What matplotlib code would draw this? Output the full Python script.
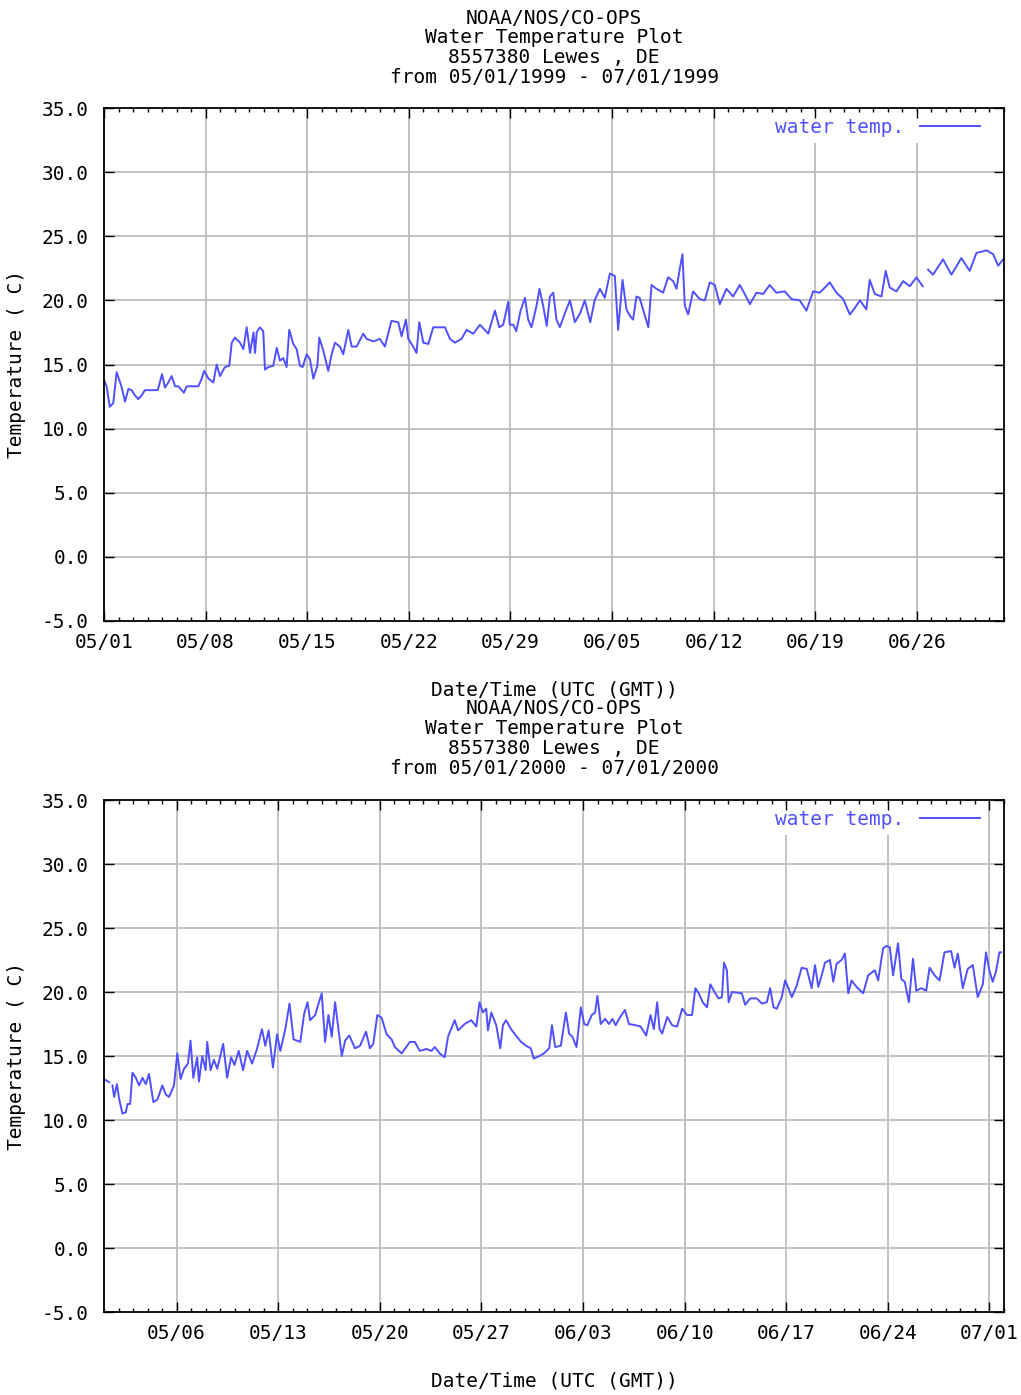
import matplotlib
matplotlib.use("Agg")
import matplotlib.pyplot as plt
import matplotlib.dates as mdates
from datetime import datetime, timedelta

nan = float("nan")

# Water temperature Lewes, DE (8557380)
# days after 05/01 00:00 UTC and temperature in C

tage_1999 = [0.0, 0.18, 0.4, 0.64, 0.87, 1.2, 1.45, 1.68, 1.9, 2.13, 2.36, 2.6, 2.82, 3.2, 3.7,
             4.0, 4.2, 4.43, 4.66, 4.9, 5.12, 5.5, 5.7, 6.5, 6.73, 6.9, 7.2, 7.53, 7.76, 7.99,
             8.33, 8.63, 8.8, 9.02, 9.37, 9.6, 9.83, 10.06, 10.3, 10.4, 10.52, 10.74, 10.97,
             11.09, 11.32, 11.66, 11.9, 12.12, 12.35, 12.58, 12.76, 13.04, 13.27, 13.5, 13.68,
             13.96, 14.19, 14.42, 14.7, 14.83, 15.1, 15.45, 15.68, 15.91, 16.25, 16.48, 16.83,
             17.06, 17.4, 17.86, 18.09, 18.55, 19.0, 19.35, 19.8, 20.27, 20.5, 20.8, 20.96,
             21.3, 21.53, 21.72, 22.0, 22.34, 22.68, 23.49, 23.83, 24.17, 24.63, 24.98, 25.44,
             25.9, 26.47, 26.93, 27.23, 27.5, 27.85, 27.95, 28.2, 28.4, 28.7, 29.0, 29.22,
             29.45, 29.8, 30.0, 30.25, 30.5, 30.72, 30.95, 31.17, 31.4, 31.75, 32.1, 32.44,
             32.8, 33.12, 33.5, 33.8, 34.16, 34.5, 34.85, 35.19, 35.42, 35.72, 35.99, 36.22,
             36.45, 36.68, 36.9, 37.26, 37.5, 37.72, 38.06, 38.52, 38.86, 39.21, 39.44, 39.67,
             39.85, 40.01, 40.24, 40.58, 41.04, 41.39, 41.73, 42.08, 42.42, 42.88, 43.34, 43.8,
             44.14, 44.49, 44.95, 45.41, 45.86, 46.32, 46.9, 47.36, 47.93, 48.39, 48.85, 49.31,
             50.0, 50.46, 50.92, 51.38, 51.72, 52.07, 52.52, 52.75, 53.1, 53.56, 53.85, 54.13,
             54.59, 55.05, 55.51, 55.97, 56.4, 56.6, 56.77, 57.11, 57.8, 58.38, 59.06, 59.64,
             60.1, 60.8, 61.25, 61.6, 61.94]
temp_1999 = [13.8, 13.3, 11.7, 12.0, 14.4, 13.3, 12.1, 13.1, 13.0, 12.6, 12.3, 12.6, 13.0, 13.0, 13.0,
             14.25, 13.2, 13.6, 14.1, 13.3, 13.3, 12.8, 13.3, 13.3, 13.9, 14.5, 13.9, 13.6, 15.0, 14.1,
             14.8, 14.9, 16.7, 17.1, 16.7, 16.2, 17.9, 15.9, 17.5, 15.9, 17.5, 17.9, 17.6,
             14.6, 14.8, 14.9, 16.3, 15.3, 15.5, 14.8, 17.7, 16.6, 16.2, 14.9, 14.8,
             15.8, 15.4, 13.9, 14.9, 17.1, 16.1, 14.5, 15.8, 16.7, 16.4, 15.8, 17.7,
             16.4, 16.4, 17.4, 17.0, 16.8, 17.0, 16.4, 18.4, 18.3, 17.2, 18.5, 17.0,
             16.4, 15.9, 18.3, 16.7, 16.6, 17.9, 17.9, 17.0, 16.7, 17.0, 17.7, 17.4,
             18.1, 17.4, 19.2, 17.9, 18.1, 19.9, 18.1, 18.1, 17.6, 19.2, 20.2, 18.5,
             17.9, 19.6, 20.9, 19.6, 18.0, 20.3, 20.6, 18.5, 17.9, 19.0, 20.0, 18.3,
             19.0, 20.0, 18.3, 20.0, 20.9, 20.2, 22.1, 21.9, 17.7, 21.6, 19.3, 18.8,
             18.5, 20.3, 20.2, 18.8, 17.9, 21.2, 20.9, 20.6, 21.8, 21.5, 20.9, 22.5,
             23.6, 19.6, 18.9, 20.7, 20.1, 20.0, 21.4, 21.2, 19.7, 20.9, 20.3, 21.2,
             20.5, 19.7, 20.6, 20.5, 21.2, 20.6, 20.7, 20.1, 20.0, 19.2, 20.7, 20.6,
             21.4, 20.6, 20.1, 18.9, 19.4, 20.0, 19.3, 21.6, 20.5, 20.3, 22.3, 21.0,
             20.7, 21.5, 21.1, 21.8, 21.1, nan, 22.4, 22.0, 23.2, 22.0, 23.3, 22.3,
             23.7, 23.9, 23.6, 22.7, 23.2]

tage_2000 = [0.0, 0.35, 0.47, 0.58, 0.7, 0.89, 1.05, 1.27, 1.5, 1.62, 1.8, 1.96, 2.19, 2.42, 2.65,
             2.88, 3.1, 3.4, 3.68, 4.02, 4.25, 4.48, 4.82, 5.05, 5.28, 5.51, 5.78, 5.96, 6.15,
             6.42, 6.54, 6.77, 7.0, 7.11, 7.34, 7.57, 7.8, 8.21, 8.48, 8.76, 8.99, 9.28, 9.58,
             9.86, 10.2, 10.54, 10.88, 11.11, 11.34, 11.64, 11.92, 12.15, 12.49, 12.78, 13.06,
             13.52, 13.79, 14.02, 14.2, 14.55, 14.78, 15.0, 15.23, 15.46, 15.69, 15.92, 16.22,
             16.38, 16.61, 16.9, 17.29, 17.64, 18.05, 18.32, 18.55, 18.83, 19.12, 19.47, 19.81,
             20.04, 20.5, 21.07, 21.41, 21.76, 22.21, 22.56, 22.79, 23.13, 23.47, 23.7, 24.16,
             24.39, 24.85, 25.3, 25.65, 25.87, 26.1, 26.33, 26.45, 26.68, 27.02, 27.3, 27.48,
             27.7, 28.04, 28.38, 28.73, 29.07, 29.4, 29.6, 30.0, 30.3, 30.67, 30.86, 31.08,
             31.47, 31.82, 32.04, 32.27, 32.55, 32.85, 33.08, 33.3, 33.6, 33.83, 33.99, 34.22,
             34.52, 34.79, 35.02, 35.25, 35.48, 35.89, 36.16, 36.62, 36.97, 37.35, 37.65, 37.88,
             38.11, 38.27, 38.45, 38.8, 39.14, 39.48, 39.83, 40.17, 40.51, 40.74, 40.97, 41.24,
             41.54, 41.77, 42.11, 42.34, 42.57, 42.71, 42.91, 43.03, 43.26, 43.94, 44.17, 44.52,
             44.97, 45.32, 45.66, 45.89, 46.12, 46.35, 46.69, 46.92, 47.15, 47.38, 47.72, 48.06,
             48.41, 48.75, 48.98, 49.21, 49.44, 49.67, 50.01, 50.24, 50.47, 50.81, 51.04, 51.27,
             51.5, 51.84, 52.3, 52.64, 53.1, 53.33, 53.67, 53.9, 54.13, 54.36, 54.7, 54.93,
             55.16, 55.45, 55.73, 55.96, 56.3, 56.64, 56.87, 57.22, 57.56, 57.9, 58.36, 58.59,
             58.82, 59.16, 59.5, 59.85, 60.19, 60.54, 60.76, 60.99, 61.22, 61.45, 61.68, 61.8]
temp_2000 = [13.2, 12.95, nan, 12.7, 11.8, 12.8, 11.6, 10.5, 10.6, 11.25, 11.25, 13.7, 13.3, 12.7, 13.3,
             12.8, 13.6, 11.4, 11.6, 12.7, 12.0, 11.8, 12.7, 15.2, 13.2, 14.0, 14.4, 16.2, 13.3,
             14.9, 13.0, 15.0, 13.9, 16.1, 13.9, 14.7, 14.0, 15.95, 13.3, 14.9, 14.3, 15.4, 13.9,
             15.4, 14.4, 15.55, 17.1, 15.8, 17.0, 14.1, 16.7, 15.4, 17.1, 19.1, 16.3,
             16.1, 18.3, 19.2, 17.8, 18.2, 19.1, 19.9, 16.1, 18.2, 16.5, 19.2, 16.5,
             15.0, 16.2, 16.6, 15.6, 15.8, 16.9, 15.6, 15.95, 18.2, 18.0, 16.7, 16.3,
             15.7, 15.2, 16.1, 16.1, 15.4, 15.55, 15.4, 15.7, 15.2, 14.9, 16.5, 17.8,
             17.0, 17.5, 17.8, 17.3, 19.2, 18.4, 18.7, 17.0, 18.4, 17.4, 15.6, 17.4,
             17.8, 17.1, 16.6, 16.1, 15.8, 15.6, 14.8, 15.0, 15.2, 15.6, 17.4, 15.7,
             15.8, 18.4, 16.75, 16.5, 15.7, 18.8, 17.5, 17.4, 18.2, 18.4, 19.7, 17.5,
             17.9, 17.5, 17.9, 17.4, 17.9, 18.6, 17.5, 17.4, 17.3, 16.6, 18.2, 17.1,
             19.2, 17.1, 16.75, 18.05, 17.4, 17.3, 18.7, 18.2, 18.2, 20.3, 19.9, 19.2,
             18.8, 20.6, 19.9, 19.5, 19.6, 22.3, 21.7, 19.2, 20.0, 19.9, 19.0, 19.5,
             19.5, 19.1, 19.2, 20.3, 18.8, 18.7, 19.6, 20.9, 20.3, 19.6, 20.5, 21.9,
             21.8, 20.3, 22.1, 20.4, 21.3, 22.3, 22.5, 20.8, 22.2, 22.5, 23.0, 19.9,
             20.9, 20.4, 19.9, 21.3, 21.7, 20.9, 23.4, 23.6, 23.5, 21.3, 23.8, 21.0,
             20.8, 19.2, 22.6, 20.1, 20.3, 20.1, 21.9, 21.3, 20.9, 23.1, 23.2, 21.9,
             23.0, 20.3, 21.8, 22.1, 19.6, 20.6, 23.1, 21.7, 20.8, 21.6, 23.1, 23.1]

ticks_1999 = ["05/01", "05/08", "05/15", "05/22", "05/29", "06/05", "06/12", "06/19", "06/26"]
ticks_2000 = ["05/06", "05/13", "05/20", "05/27", "06/03", "06/10", "06/17", "06/24", "07/01"]
y_ticks = [-5, 0, 5, 10, 15, 20, 25, 30, 35]

BLAU = "#5050ff"
GRAU = "#bdbdbd"

plt.rcParams["font.family"] = "DejaVu Sans Mono"
plt.rcParams["font.size"] = 14

W, H = 1021, 1395
fig = plt.figure(figsize=(W / 100, H / 100), dpi=100)


# pixel -> figure coordinates
def fx(px):
    return px / W


def fy(py):
    return 1 - py / H


def panel(top, bottom, jahr, tage, temp, tick_labels, title_y, xlabel_y):
    ax = fig.add_axes([fx(104), fy(bottom), 900 / W, (bottom - top) / H])
    ax.set_axisbelow(False)

    start = datetime(jahr, 5, 1)
    ende = start + timedelta(days=62)
    zeit = [start + timedelta(days=t) for t in tage]
    ax.plot(zeit, temp, color=BLAU, linewidth=1.4, label="water temp.", zorder=2)

    ticks = [datetime.strptime(str(jahr) + "/" + s, "%Y/%m/%d") for s in tick_labels]
    ax.set_xlim(start, ende)
    ax.set_ylim(-5, 35)
    ax.set_xticks(ticks)
    ax.set_xticklabels(tick_labels)
    ax.xaxis.set_minor_locator(mdates.DayLocator())
    ax.set_yticks(y_ticks)
    ax.set_yticklabels(["%.1f" % v for v in y_ticks])

    # grid lines
    for t in ticks:
        if start < t < ende:
            ax.axvline(t, color=GRAU, linewidth=1.3, zorder=1)
    for v in y_ticks[1:-1]:
        ax.axhline(v, color=GRAU, linewidth=1.3, zorder=1)

    ax.tick_params(which="both", direction="in", top=True, right=True, colors="black")
    ax.tick_params(which="major", length=7, width=1.0)
    ax.tick_params(which="minor", length=3, width=1.0)
    ax.tick_params(axis="x", pad=8.5)
    ax.tick_params(axis="y", pad=11)
    for s in ax.spines.values():
        s.set_linewidth(1.3)

    leg = ax.legend(loc="upper right", bbox_to_anchor=(0.98, 0.992), borderaxespad=0,
                    borderpad=0.3, markerfirst=False, handlelength=3.1, handletextpad=0.8,
                    labelcolor="linecolor", fancybox=False, framealpha=1)
    leg.get_frame().set_linewidth(0)
    leg.set_zorder(2.2)

    # title and axis labels
    zeilen = ["NOAA/NOS/CO-OPS", "Water Temperature Plot", "8557380 Lewes , DE",
              "from 05/01/%d - 07/01/%d" % (jahr, jahr)]
    for i, z in enumerate(zeilen):
        fig.text(fx(554), fy(title_y + i * 19.7), z, ha="center", va="center")
    fig.text(fx(554), fy(xlabel_y), "Date/Time (UTC (GMT))", ha="center", va="center")
    fig.text(fx(17), fy((top + bottom) / 2), "Temperature ( C)", rotation=90,
             ha="center", va="center")
    return ax


panel(108, 621, 1999, tage_1999, temp_1999, ticks_1999, 18, 690)
panel(800, 1312, 2000, tage_2000, temp_2000, ticks_2000, 709, 1381)

fig.savefig("out.png", dpi=100)
